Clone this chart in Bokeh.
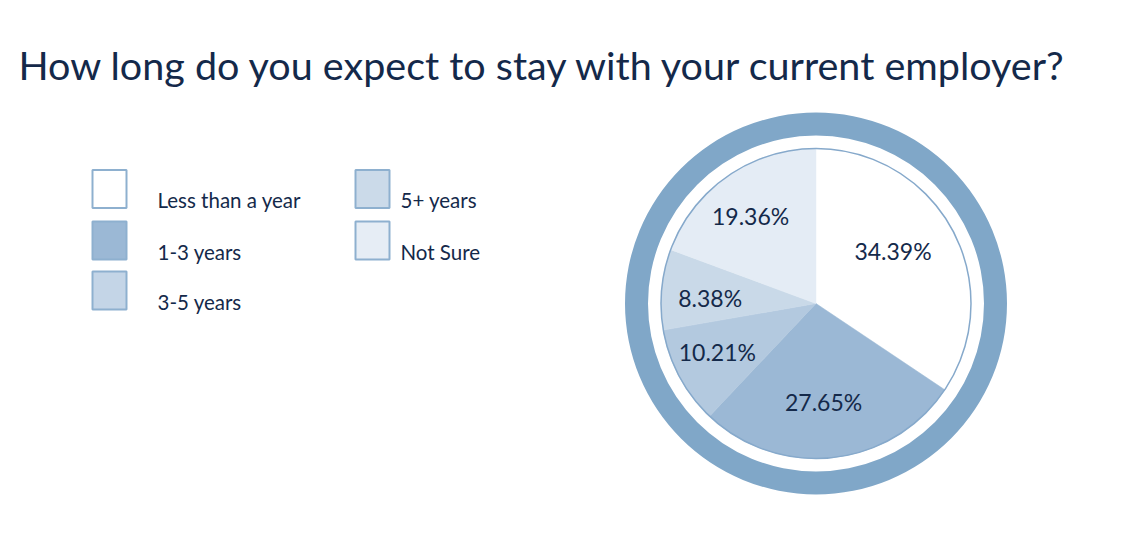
import numpy as np
from bokeh.plotting import figure
from bokeh.models import Range1d
from bokeh.embed import file_html
from bokeh.resources import INLINE
from bokeh.core.properties import value

# ---- data ----
title_text = "How long do you expect to stay with your current employer?"
categories = ["Less than a year", "1-3 years", "3-5 years", "5+ years", "Not Sure"]
percentages = [34.39, 27.65, 10.21, 8.38, 19.36]
pct_labels = ["34.39%", "27.65%", "10.21%", "8.38%", "19.36%"]
slice_colors = ["#ffffff", "#9bb8d5", "#b3c9df", "#c9d9e8", "#e4ecf5"]
legend_colors = ["#ffffff", "#9bb8d5", "#c4d5e7", "#cbdae9", "#e6edf5"]

# ---- layout ----
FONT = "Lato"
TXT = "#14294a"
W, H = 1105, 521

def fy(ys):
    return H - ys

p = figure(width=W, height=H, x_range=Range1d(0, W), y_range=Range1d(0, H),
           output_backend="svg", toolbar_location=None, min_border=0,
           x_axis_type=None, y_axis_type=None)
p.grid.visible = False
p.outline_line_color = None
p.background_fill_color = "white"
p.border_fill_color = "white"

# title
p.text(x=[18], y=[fy(64)], text=[title_text], text_font=value(FONT), text_font_size="39.5px",
       text_color=TXT, text_baseline="middle", text_align="left")

# pie
cx, cy = 815.5, fy(303)
p.annulus(x=cx, y=cy, inner_radius=168, outer_radius=191, fill_color="#80a7c8", line_color=None)

fr = np.array(percentages) / np.sum(percentages)
cum = np.concatenate([[0], np.cumsum(fr)])
starts = np.pi / 2 - 2 * np.pi * cum[:-1]
ends = np.pi / 2 - 2 * np.pi * cum[1:]
p.wedge(x=cx, y=cy, radius=155, start_angle=starts, end_angle=ends, direction="clock",
        fill_color=slice_colors, line_color=slice_colors, line_width=0.5)
p.circle(x=cx, y=cy, radius=155, fill_color=None, line_color="#86a9cb", line_width=1.5)

mids = (starts + ends) / 2
lab_r = np.array([93, 99, 110, 106, 109])
lab_da = np.radians([6, -2, -2, 2, 2])
lx = cx + lab_r * np.cos(mids + lab_da)
ly = cy + lab_r * np.sin(mids + lab_da)
p.text(x=lx, y=ly, text=pct_labels, text_font=value(FONT), text_font_size="23px",
       text_color=TXT, text_align="center", text_baseline="middle")

# legend
col_x = [109, 372]
row_y = [188.5, 240, 290]
lab_x = [157, 400]
sq_x, sq_y, tx, ty = [], [], [], []
for i, c in enumerate(categories):
    col = 0 if i < 3 else 1
    row = i if i < 3 else i - 3
    sq_x.append(col_x[col])
    sq_y.append(fy(row_y[row]))
    tx.append(lab_x[col])
    ty.append(fy(row_y[row] + 11))
p.rect(x=sq_x, y=sq_y, width=34, height=38, fill_color=legend_colors,
       line_color="#8eb0cf", line_width=2)
p.text(x=tx, y=ty, text=categories, text_font=value(FONT), text_font_size="20.5px",
       text_color=TXT, text_align="left", text_baseline="middle")

open("out.html", "w").write(file_html(p, INLINE))
